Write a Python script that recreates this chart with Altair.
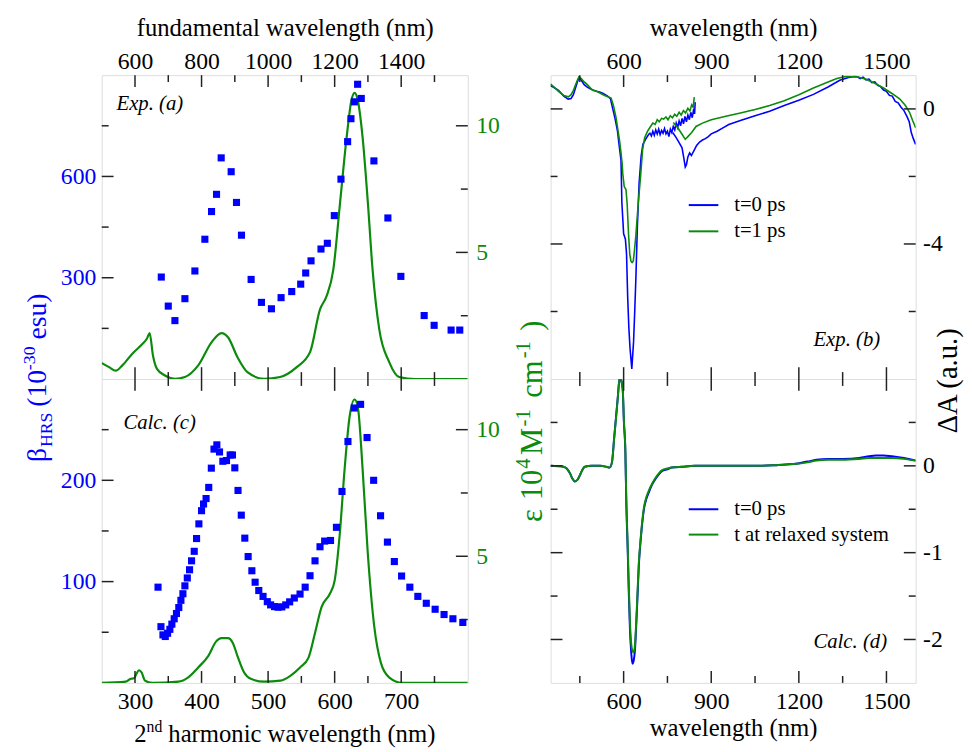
import altair as alt
import pandas as pd

FONT = "Liberation Serif"
BLUE = "#0000ff"
GREEN = "#0b8a0b"
INK = "#000000"
TICKC = "#222222"

W_L, W_R, H = 371, 370, 308
MAJ, MIN = 12, 7
LAB, TIT = 24, 25

# ---------------- panel (a): experimental HRS + absorption ----------------
a_shg_nm = [339.5, 350, 360, 375, 390, 405, 415, 422.5, 429.5, 444.5, 452.5, 460, 474.5, 490, 505,
            519.5, 535.5, 549, 556.5, 564.5, 579.5, 589, 599.5, 609.5, 619.5, 624.5, 629.5, 634.5,
            640, 659, 680, 699.5, 734.5, 749.5, 775, 788]
a_beta = [302, 216, 173, 238, 320, 414, 496, 547, 655, 614, 523, 426, 295, 227, 208, 241, 259, 281,
          314, 350, 385, 402, 484, 592, 703, 771, 821, 873, 831, 646, 477, 304, 188, 159, 145, 145]
a_abs_nm = [250, 261, 271, 281, 296, 311, 318, 322, 327, 333, 345, 360, 375, 395, 415, 430, 440, 454,
            469, 494, 518, 543, 563, 578, 588, 598, 608, 618, 625, 630, 635, 642, 650, 657, 667, 682,
            697, 721, 800]
a_eps = [0.63, 0.47, 0.33, 0.54, 1.0, 1.38, 1.6, 1.81, 0.93, 0.40, 0.14, 0.01, 0.08, 0.54, 1.45, 1.81,
         1.64, 0.86, 0.27, 0.01, 0.08, 0.47, 1.06, 2.75, 3.28, 4.32, 6.93, 9.54, 10.98, 11.3, 10.98,
         9.54, 6.93, 4.32, 1.97, 0.67, 0.08, 0.0, 0.0]

# ---------------- panel (c): calculated HRS + absorption ----------------
c_shg_nm = [334.6, 339, 342, 345.5, 349, 352.4, 355.4, 358.9, 362.3, 365.8,
            369, 372, 375, 378.6, 382, 385, 389, 392.5, 396, 400,
            403, 406.8, 410.8, 414.7, 418.7, 423, 427, 432, 437.5, 443,
            446.4, 450, 454.8, 459.7, 465, 470, 475.6, 480.5, 486, 492.4,
            498.8, 503.8, 509.7, 515, 520.6, 526.5, 532.4, 539.4, 548, 555.7,
            563, 570.5, 578, 585, 593.8, 602.7, 611, 620, 629.4, 639,
            648.7, 658.6, 669, 679.3, 689.7, 700.6, 713, 725, 737.7, 751,
            764.4, 777.7, 792.6]
c_beta = [94.5, 55.5, 47.4, 45.8, 49, 52.9, 58, 63.3, 68.5, 74.4,
          81.5, 88, 95.8, 103.6, 111.7, 120.5, 129.9, 142.5, 157, 170,
          176.6, 182, 193, 212, 230.8, 235, 228, 218.8, 219.5, 225,
          225, 212.3, 190, 165.6, 142.9, 124.7, 110.7, 99.4, 91.2, 85.4,
          80.2, 77, 75.3, 74.7, 75, 77, 80, 83.8, 87.7, 94.5,
          105.8, 120.5, 134.4, 140, 140.6, 153.6, 189, 238.3, 271.4, 275,
          242.2, 200, 165, 139, 119.8, 105.5, 94.5, 85.4, 78.6, 72.7,
          67.5, 63.3, 59.7]
c_abs_nm = [250, 286, 293.6, 298.5, 302, 306, 310, 315, 326, 365, 380, 395, 410, 422, 429.6, 439.5,
            447, 454, 464, 474, 494, 518.6, 533.4, 548, 560.6, 570.5, 580.4, 592.8, 600, 607.6, 615,
            622.5, 630, 634.8, 642, 649.6, 659.5, 669.4, 681.8, 701.6, 800]
c_eps = [0, 0.05, 0.16, 0.18, 0.35, 0.5, 0.41, 0.09, 0, 0.05, 0.22, 0.61, 1.06, 1.64, 1.77, 1.77,
         1.58, 1.06, 0.41, 0.16, 0.05, 0.09, 0.28, 0.61, 0.99, 1.97, 3.0, 3.52, 4.04, 5.85, 8.45,
         10.52, 11.19, 10.9, 8.45, 5.2, 2.23, 0.8, 0.22, 0, 0]

# ---------------- panel (b): experimental transient absorption ----------------
b_t0_vis_nm = [349, 360, 377, 395, 410, 420, 428, 440, 447, 455, 465, 473, 484, 495, 507, 518, 530,
               545, 555, 562, 571, 579, 585, 591, 594, 600, 606, 610, 614, 618, 622, 625, 628, 631,
               634, 638, 642, 647, 653, 660, 666, 675, 686, 690, 695, 700, 705, 710, 715, 720, 725,
               730, 735, 740, 745, 750, 755, 760, 765, 770, 775, 780, 785, 790, 795, 800, 805, 810,
               815, 820, 825, 830, 835, 840, 843, 845]
b_t0_vis = [0.69, 0.64, 0.55, 0.38, 0.29, 0.31, 0.42, 0.75, 0.93, 0.85, 0.72, 0.66, 0.60, 0.56, 0.52,
            0.50, 0.46, 0.38, 0.30, 0.03, -0.30, -0.66, -1.10, -1.52, -2.78, -3.70, -3.85, -4.30,
            -5.60, -6.50, -7.10, -7.40, -7.70, -7.30, -6.90, -6.0, -5.0, -3.5, -2.2, -1.4, -1.05,
            -0.90, -0.75, -0.72, -0.80, -0.66, -0.78, -0.62, -0.74, -0.60, -0.76, -0.64, -0.72,
            -0.58, -0.74, -0.66, -0.82, -0.60, -0.70, -0.52, -0.62, -0.42, -0.55, -0.36, -0.50,
            -0.28, -0.44, -0.22, -0.38, -0.18, -0.32, -0.10, -0.26, 0.0, -0.15, 0.20]
b_t0_nir_nm = [768, 780, 790, 800, 806, 811, 815, 820, 826, 832, 840, 850, 860, 870, 880, 890, 900,
               920, 940, 960, 980, 1000, 1050, 1100, 1150, 1200, 1250, 1300, 1340, 1370, 1390, 1400,
               1410, 1420, 1430, 1440, 1450, 1460, 1470, 1480, 1490, 1500, 1510, 1520, 1530, 1540,
               1550, 1560, 1570, 1578, 1585, 1592, 1600]
b_t0_nir = [-0.70, -0.85, -1.00, -1.15, -1.45, -1.72, -1.65, -1.42, -1.30, -1.38, -1.25, -1.08, -0.98,
            -0.92, -0.88, -0.82, -0.74, -0.66, -0.56, -0.46, -0.40, -0.34, -0.20, -0.07, 0.10, 0.26,
            0.43, 0.65, 0.85, 0.93, 0.96, 0.95, 0.90, 0.94, 0.86, 0.88, 0.78, 0.80, 0.70, 0.66, 0.56,
            0.52, 0.40, 0.38, 0.22, 0.18, 0.05, -0.05, -0.22, -0.38, -0.70, -0.88, -1.05]
b_t1_vis_nm = [349, 360, 377, 395, 411, 420, 428, 440, 447, 455, 465, 473, 494, 507, 535, 557, 565,
               574, 580, 586, 591, 595, 597, 602, 608, 612, 617, 621, 625, 629, 633, 637, 642, 650,
               658, 665, 672, 682, 690, 700, 708, 715, 722, 730, 737, 745, 752, 760, 767, 775, 782,
               790, 797, 805, 812, 820, 827, 833, 838, 842]
b_t1_vis = [0.74, 0.66, 0.52, 0.40, 0.36, 0.42, 0.55, 0.82, 0.95, 0.90, 0.80, 0.74, 0.55, 0.52, 0.40,
            0.32, 0.10, -0.26, -0.60, -0.94, -1.30, -1.62, -1.91, -2.30, -2.39, -2.80, -3.74, -4.30,
            -4.51, -4.55, -4.51, -4.20, -3.74, -2.80, -2.00, -1.20, -0.85, -0.66, -0.55, -0.42,
            -0.46, -0.32, -0.38, -0.28, -0.30, -0.24, -0.32, -0.20, -0.26, -0.16, -0.22, -0.10,
            -0.18, -0.05, -0.12, 0.02, -0.06, 0.12, 0.05, 0.35]
b_t1_nir_nm = [770, 785, 800, 811, 820, 833, 848, 870, 900, 950, 1000, 1050, 1100, 1150, 1200, 1250,
               1300, 1330, 1360, 1400, 1430, 1460, 1490, 1520, 1545, 1565, 1580, 1590, 1600]
b_t1_nir = [-0.40, -0.55, -0.75, -0.90, -0.82, -0.70, -0.52, -0.42, -0.32, -0.22, -0.12, -0.02, 0.10,
            0.24, 0.42, 0.62, 0.80, 0.90, 0.96, 0.95, 0.88, 0.76, 0.62, 0.45, 0.30, 0.10, -0.12,
            -0.35, -0.56]

# ---------------- panel (d): calculated transient absorption ----------------
d_nm = [350, 394, 405, 417, 425, 433, 442, 450, 458, 467, 490, 520, 540, 552, 560, 568, 575, 580,
        584, 588, 592, 597, 601, 606, 609, 614, 618, 622, 626, 630, 634, 639, 643, 647, 652, 658,
        664, 670, 678, 687, 697, 709, 720, 732, 750, 765, 800, 844, 950, 1069, 1130, 1182, 1230,
        1260, 1300, 1350, 1407, 1440, 1463, 1490, 1519, 1560, 1600]
d_t0 = [0, -0.01, -0.03, -0.09, -0.15, -0.18, -0.16, -0.11, -0.05, -0.01, 0, 0, -0.01, -0.02, 0.04,
        0.34, 0.60, 0.79, 0.95, 1.02, 0.98, 0.87, 0.50, 0.15, -0.40, -0.98, -1.50, -1.92, -2.15,
        -2.28, -2.25, -2.11, -1.85, -1.55, -1.15, -0.87, -0.65, -0.49, -0.38, -0.30, -0.22, -0.15,
        -0.10, -0.06, -0.04, -0.02, -0.01, 0, 0, 0, 0.01, 0.02, 0.05, 0.07, 0.08, 0.08, 0.09, 0.11,
        0.12, 0.12, 0.11, 0.09, 0.06]
d_relax = [0, -0.01, -0.03, -0.09, -0.15, -0.18, -0.16, -0.11, -0.05, -0.01, 0, 0, -0.01, -0.02, 0.04,
           0.33, 0.59, 0.78, 0.95, 1.02, 0.99, 0.88, 0.52, 0.17, -0.36, -0.92, -1.42, -1.82, -2.05,
           -2.13, -2.15, -2.05, -1.80, -1.50, -1.12, -0.85, -0.63, -0.47, -0.36, -0.28, -0.21, -0.14,
           -0.09, -0.05, -0.03, -0.02, -0.01, 0, 0, 0, 0.01, 0.02, 0.04, 0.06, 0.07, 0.07, 0.08, 0.09,
           0.09, 0.09, 0.09, 0.08, 0.06]

# ---------------- ticks / labels ----------------
shg_major = [300, 400, 500, 600, 700]
shg_minor = [350, 450, 550, 650, 750]
wl_major = [600, 900, 1200, 1500]
wl_minor = [450, 750, 1050, 1350]
beta_a_major, beta_a_minor = [300, 600], [150, 450, 750]
beta_c_major, beta_c_minor = [100, 200], [50, 150, 250]
eps_major, eps_minor = [5, 10], [2.5, 7.5]
dA_b_major, dA_b_minor = [0, -4], [-2, -6]
dA_d_major, dA_d_minor = [0, -1, -2], [0.5, -0.5, -1.5]

legend_b = ["t=0 ps", "t=1 ps"]
legend_d = ["t=0 ps", "t at relaxed system"]

NEG = "datum.value < 0 ? '-' + abs(datum.value) : '' + datum.value"


def axis(orient, values, color=INK, title=None, expr=None, pad=5, ty=None):
    kw = dict(orient=orient, values=values, ticks=False, domain=False, grid=False,
              labelFont=FONT, labelFontSize=LAB, labelColor=color, labelFlush=False,
              labelOverlap=False, labelPadding=pad, titleFont=FONT, titleFontSize=TIT,
              titleFontWeight="normal", titleColor=INK, title=title, format="d")
    if expr:
        kw["labelExpr"] = expr
    if ty is not None:
        kw["titleY"] = ty
        kw["titleBaseline"] = "alphabetic"
    return alt.Axis(**kw)


def frame_x_ticks(xenc, major, minor):
    out = []
    for vals, L in ((major, MAJ), (minor, MIN)):
        base = alt.Chart(pd.DataFrame({"x": vals})).mark_rule(color=TICKC, strokeWidth=1.5)
        out.append(base.encode(x=xenc, y=alt.value(0), y2=alt.value(L)))
        out.append(base.encode(x=xenc, y=alt.value(H), y2=alt.value(H - L)))
    return out


def frame_y_ticks(yenc, major, minor, W, left=True, right=True):
    out = []
    for vals, L in ((major, MAJ), (minor, MIN)):
        base = alt.Chart(pd.DataFrame({"y": vals})).mark_rule(color=TICKC, strokeWidth=1.5)
        if left:
            out.append(base.encode(y=yenc, x=alt.value(0), x2=alt.value(L)))
        if right:
            out.append(base.encode(y=yenc, x=alt.value(W - L), x2=alt.value(W)))
    return out


def text(txt, x, y, size=21, color=INK, align="left", baseline="alphabetic", angle=0, dx=0, dy=0,
         style="normal"):
    return alt.Chart(pd.DataFrame({"t": [txt]})).mark_text(
        font=FONT, fontSize=size, color=color, align=align, baseline=baseline, angle=angle,
        dx=dx, dy=dy, fontStyle=style).encode(text="t:N", x=alt.value(x), y=alt.value(y))


def legend(labels, x1, x2, ys, colors):
    out = []
    for lab, y, c in zip(labels, ys, colors):
        out.append(alt.Chart(pd.DataFrame({"t": [lab]})).mark_rule(color=c, strokeWidth=2).encode(
            x=alt.value(x1), x2=alt.value(x2), y=alt.value(y)))
        out.append(text(lab, x2 + 16, y, size=21, baseline="middle"))
    return out


def sq(v):
    return alt.Scale(domain=v, nice=False, zero=False)


# ================= panel (a) =================
x_a = alt.X("x:Q", scale=sq([250, 800]),
            axis=axis("top", shg_major, title="fundamental wavelength (nm)",
                      expr="format(2*datum.value, 'd')", pad=2, ty=-40))
yb_a = alt.Y("y:Q", scale=sq([0, 900]), axis=axis("left", beta_a_major, color=BLUE, pad=6))
ye_a = alt.Y("y:Q", scale=sq([0, 12]), axis=axis("right", eps_major, color=GREEN, pad=8))

pts_a = alt.Chart(pd.DataFrame({"x": a_shg_nm, "y": a_beta})).mark_square(
    size=52, color=BLUE, opacity=1).encode(x=x_a, y=yb_a)
line_a = alt.Chart(pd.DataFrame({"x": a_abs_nm, "y": a_eps})).mark_line(
    color=GREEN, strokeWidth=2.2, interpolate="monotone", clip=True).encode(x=x_a, y=ye_a)

beta_title = [
    text("β", -56, 392, size=28, color=BLUE, angle=270, dx=0),
    text("HRS", -56, 392, size=18, color=BLUE, angle=270, dx=15, dy=6),
    text("(10", -56, 392, size=28, color=BLUE, angle=270, dx=56),
    text("-30", -56, 392, size=18, color=BLUE, angle=270, dx=93, dy=-12),
    text("esu)", -56, 392, size=28, color=BLUE, angle=270, dx=124),
]
EX, EY = 446, 453
eps_title = [
    text("ε", EX, EY, size=31, color=GREEN, angle=270, dx=0),
    text("10", EX, EY, size=31, color=GREEN, angle=270, dx=22),
    text("4", EX, EY, size=21, color=GREEN, angle=270, dx=54, dy=-12),
    text("M", EX, EY, size=31, color=GREEN, angle=270, dx=68),
    text("-1", EX, EY, size=21, color=GREEN, angle=270, dx=97, dy=-12),
    text("cm", EX, EY, size=31, color=GREEN, angle=270, dx=126),
    text("-1", EX, EY, size=21, color=GREEN, angle=270, dx=166, dy=-12),
    text(")", EX, EY, size=31, color=GREEN, angle=270, dx=194),
]
anchor = alt.Chart(pd.DataFrame({"t": [0]})).mark_rule(strokeOpacity=0).encode(
    x=alt.value(-94), x2=alt.value(-94), y=alt.value(-62), y2=alt.value(-61))

grp_eps_a = alt.layer(line_a, *frame_y_ticks(ye_a, eps_major, eps_minor, W_L, left=False))
grp_beta_a = alt.layer(pts_a, *frame_y_ticks(yb_a, beta_a_major, beta_a_minor, W_L, right=False),
                       *frame_x_ticks(x_a, shg_major, shg_minor),
                       text("Exp. (a)", 15, 35, style="italic"),
                       *beta_title, *eps_title, anchor)
panel_a = alt.layer(grp_eps_a, grp_beta_a).resolve_scale(y="independent").properties(
    width=W_L, height=H)

# ================= panel (c) =================
x_c = alt.X("x:Q", scale=sq([250, 800]), axis=axis("bottom", shg_major, pad=7))
yb_c = alt.Y("y:Q", scale=sq([0, 300]), axis=axis("left", beta_c_major, color=BLUE, pad=6))
ye_c = alt.Y("y:Q", scale=sq([0, 12]), axis=axis("right", eps_major, color=GREEN, pad=8))

pts_c = alt.Chart(pd.DataFrame({"x": c_shg_nm, "y": c_beta})).mark_square(
    size=52, color=BLUE, opacity=1).encode(x=x_c, y=yb_c)
line_c = alt.Chart(pd.DataFrame({"x": c_abs_nm, "y": c_eps})).mark_line(
    color=GREEN, strokeWidth=2.2, interpolate="monotone", clip=True).encode(x=x_c, y=ye_c)

shg_title = [
    text("2", 33, H + 60, size=25),
    text("nd", 45.5, H + 50, size=16),
    text("harmonic wavelength (nm)", 67.5, H + 60, size=25),
]
grp_eps_c = alt.layer(line_c, *frame_y_ticks(ye_c, eps_major, eps_minor, W_L, left=False))
grp_beta_c = alt.layer(pts_c, *frame_y_ticks(yb_c, beta_c_major, beta_c_minor, W_L, right=False),
                       *frame_x_ticks(x_c, shg_major, shg_minor),
                       text("Calc. (c)", 22, 51, style="italic"), *shg_title)
panel_c = alt.layer(grp_eps_c, grp_beta_c).resolve_scale(y="independent").properties(
    width=W_L, height=H)

# ================= panel (b) =================
x_b = alt.X("x:Q", scale=sq([350, 1600]),
            axis=axis("top", wl_major, title="wavelength (nm)", pad=2, ty=-40))
y_b = alt.Y("y:Q", scale=sq([-8, 1]), axis=axis("right", dA_b_major, expr=NEG, pad=7))

df_b0 = pd.DataFrame({"x": b_t0_vis_nm + b_t0_nir_nm, "y": b_t0_vis + b_t0_nir,
                      "seg": ["vis"] * len(b_t0_vis_nm) + ["nir"] * len(b_t0_nir_nm)})
df_b1 = pd.DataFrame({"x": b_t1_vis_nm + b_t1_nir_nm, "y": b_t1_vis + b_t1_nir,
                      "seg": ["vis"] * len(b_t1_vis_nm) + ["nir"] * len(b_t1_nir_nm)})
line_b0 = alt.Chart(df_b0).mark_line(color=BLUE, strokeWidth=1.6, clip=True).encode(
    x=x_b, y=y_b, detail="seg:N")
line_b1 = alt.Chart(df_b1).mark_line(color=GREEN, strokeWidth=1.6, clip=True).encode(
    x=x_b, y=y_b, detail="seg:N")

panel_b = alt.layer(
    line_b0, line_b1,
    *frame_y_ticks(y_b, dA_b_major, dA_b_minor, W_R),
    *frame_x_ticks(x_b, wl_major, wl_minor),
    *legend(legend_b, 140, 170, [131.7, 158.3], [BLUE, GREEN]),
    text("Exp. (b)", 334, 275, align="right", style="italic"),
    text("ΔA (a.u.)", 412, 363, size=29, angle=270),
).properties(width=W_R, height=H)

# ================= panel (d) =================
x_d = alt.X("x:Q", scale=sq([350, 1600]),
            axis=axis("bottom", wl_major, title="wavelength (nm)", pad=7, ty=53))
y_d = alt.Y("y:Q", scale=sq([-2.5, 1]), axis=axis("right", dA_d_major, expr=NEG, pad=7))

line_d0 = alt.Chart(pd.DataFrame({"x": d_nm, "y": d_t0})).mark_line(
    color=BLUE, strokeWidth=2, interpolate="monotone", clip=True).encode(x=x_d, y=y_d)
line_d1 = alt.Chart(pd.DataFrame({"x": d_nm, "y": d_relax})).mark_line(
    color=GREEN, strokeWidth=2, interpolate="monotone", clip=True).encode(x=x_d, y=y_d)

panel_d = alt.layer(
    line_d0, line_d1,
    *frame_y_ticks(y_d, dA_d_major, dA_d_minor, W_R),
    *frame_x_ticks(x_d, wl_major, wl_minor),
    *legend(legend_d, 140, 170, [132, 157.7], [BLUE, GREEN]),
    text("Calc. (d)", 341, 272.7, align="right", style="italic"),
).properties(width=W_R, height=H)

chart = alt.concat(panel_a, panel_b, panel_c, panel_d, columns=2,
                   spacing={"row": 0, "column": 84}, bounds="flush").properties(
    padding=0).configure_view(stroke=INK, strokeWidth=2).configure(background="white")

chart.save("out.html", embed_options={"renderer": "svg", "actions": False})
